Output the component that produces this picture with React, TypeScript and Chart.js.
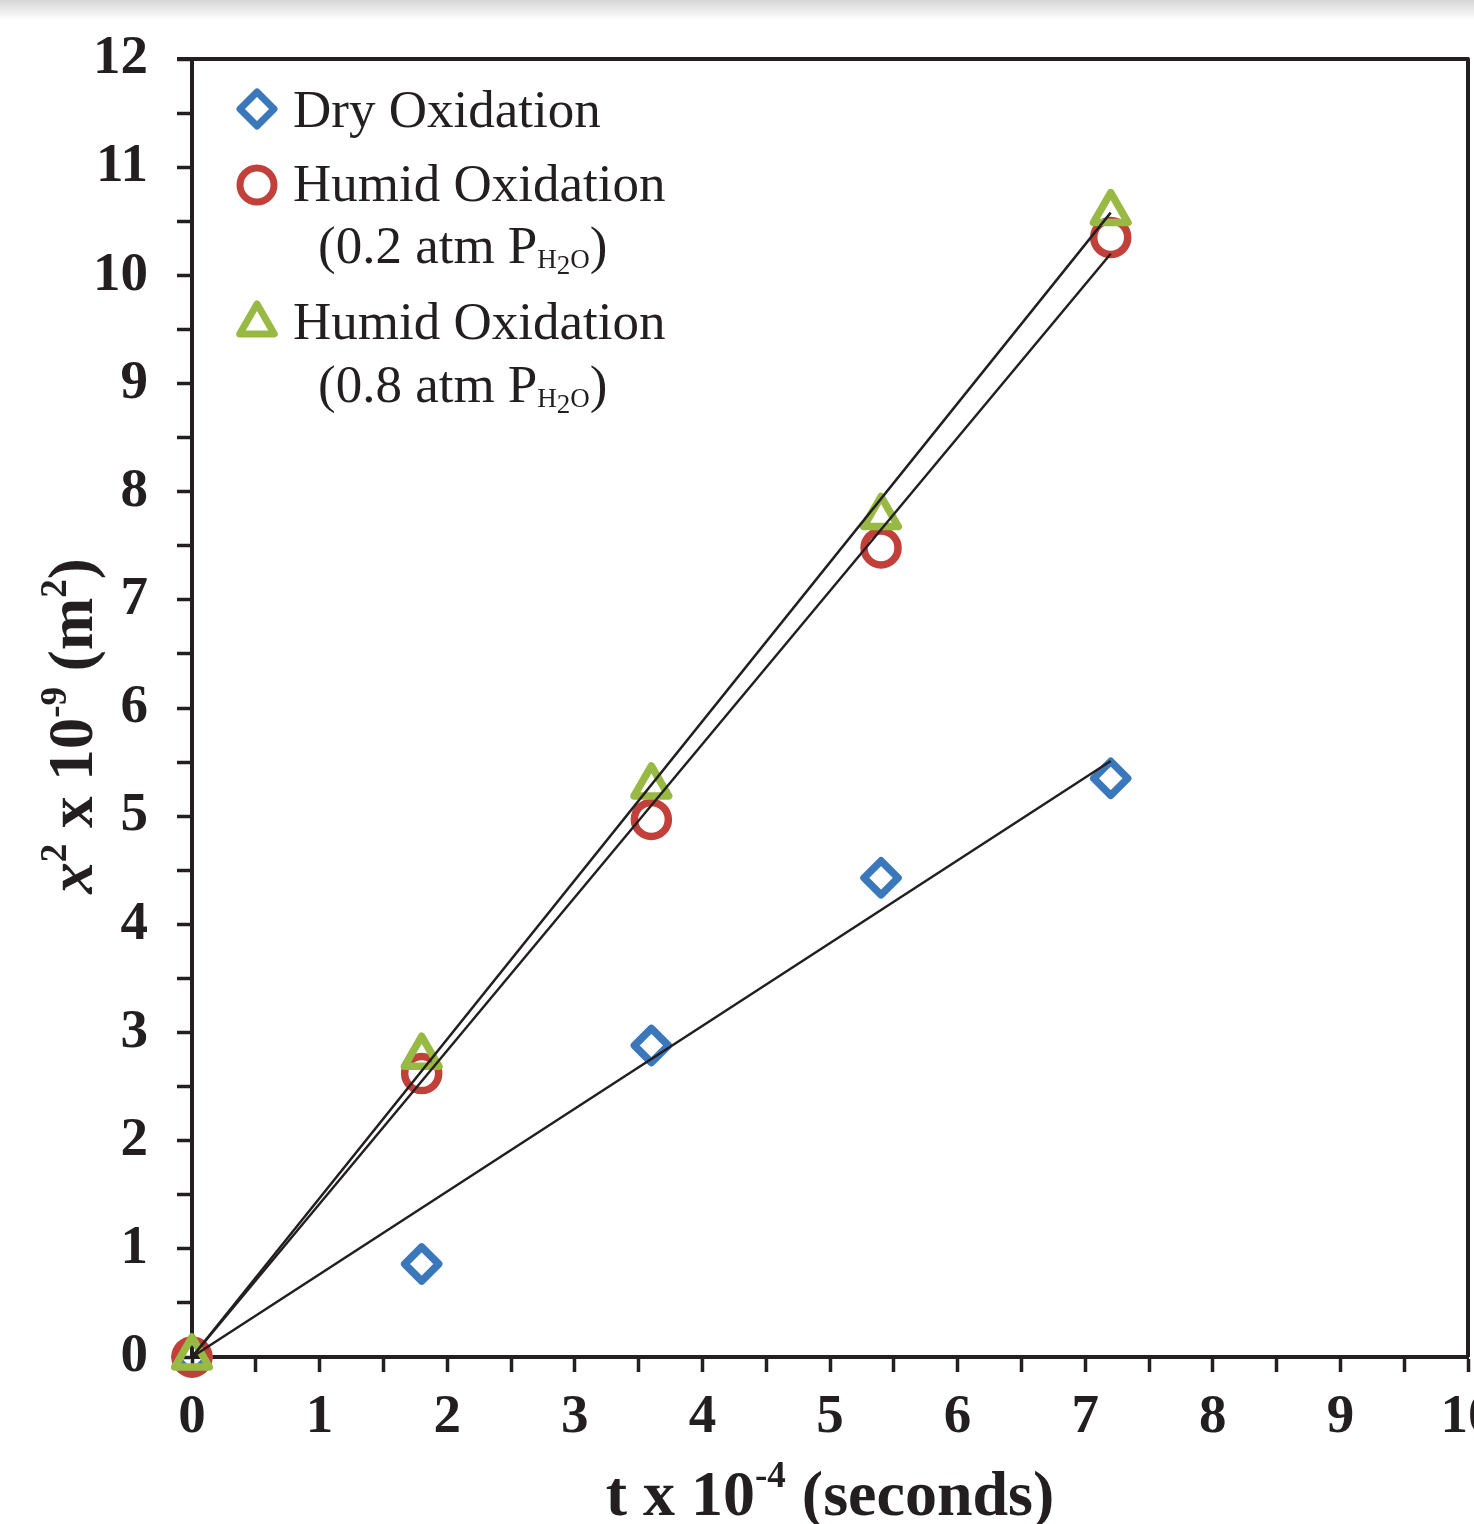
import React, { useEffect, useRef } from 'react';
import { Chart, registerables } from 'chart.js';

Chart.register(...registerables);

// ---------- data ----------
const TIME = [0, 1.8, 3.6, 5.4, 7.2];
const DRY = [0, 0.86, 2.88, 4.43, 5.35];
const HUMID_02 = [0, 2.62, 4.97, 7.48, 10.35];
const HUMID_08 = [0, 2.78, 5.28, 7.77, 10.58];

const FIT_TIME = [0, 7.2];
const FIT_DRY = [0, 5.51];
const FIT_HUMID_02 = [0, 10.2];
const FIT_HUMID_08 = [0, 10.58];

const X_TICK_LABELS = ['0', '1', '2', '3', '4', '5', '6', '7', '8', '9', '10'];
const Y_TICK_LABELS = ['0', '1', '2', '3', '4', '5', '6', '7', '8', '9', '10', '11', '12'];

const LEGEND_DRY = 'Dry Oxidation';
const LEGEND_HUMID = 'Humid Oxidation';
const LEGEND_P02 = '(0.2 atm P';
const LEGEND_P08 = '(0.8 atm P';

// ---------- styles ----------
const INK = '#231f20';
const BLUE = '#3b78bb';
const RED = '#c2403a';
const GREEN = '#98ba45';
const SERIF = "'Liberation Serif', 'Times New Roman', serif";

type Seg = { t: string; font: string; dy?: number };

function segWidth(ctx: CanvasRenderingContext2D, segs: Seg[]) {
  let w = 0;
  for (const s of segs) {
    ctx.font = s.font;
    w += ctx.measureText(s.t).width;
  }
  return w;
}

function drawRich(ctx: CanvasRenderingContext2D, segs: Seg[], x: number, y: number, align: 'left' | 'center') {
  ctx.textAlign = 'left';
  ctx.textBaseline = 'alphabetic';
  ctx.fillStyle = INK;
  let cx = align === 'center' ? x - segWidth(ctx, segs) / 2 : x;
  for (const s of segs) {
    ctx.font = s.font;
    ctx.fillText(s.t, cx, y + (s.dy || 0));
    cx += ctx.measureText(s.t).width;
  }
}

function marker(ctx: CanvasRenderingContext2D, style: string, x: number, y: number, r: number, color: string) {
  ctx.save();
  ctx.strokeStyle = color;
  ctx.lineWidth = 7;
  ctx.lineJoin = 'round';
  ctx.beginPath();
  if (style === 'rectRot') {
    ctx.moveTo(x - r, y);
    ctx.lineTo(x, y - r);
    ctx.lineTo(x + r, y);
    ctx.lineTo(x, y + r);
    ctx.closePath();
  } else if (style === 'circle') {
    ctx.arc(x, y, r, 0, Math.PI * 2);
  } else {
    ctx.moveTo(x, y - r);
    ctx.lineTo(x + 0.866 * r, y + 0.5 * r);
    ctx.lineTo(x - 0.866 * r, y + 0.5 * r);
    ctx.closePath();
  }
  ctx.stroke();
  ctx.restore();
}

const decorPlugin = {
  id: 'decor',
  beforeDraw(chart: any) {
    const ctx = chart.ctx as CanvasRenderingContext2D;
    ctx.save();
    const g = ctx.createLinearGradient(0, 0, 0, 20);
    g.addColorStop(0, 'rgba(215,215,215,1)');
    g.addColorStop(0.6, 'rgba(238,238,238,1)');
    g.addColorStop(1, 'rgba(255,255,255,1)');
    ctx.fillStyle = g;
    ctx.fillRect(0, 0, chart.width, 20);
    ctx.restore();
  },
  beforeDatasetDraw(chart: any) {
    chart.ctx.lineJoin = 'round';
  },
  afterDraw(chart: any) {
    const ctx = chart.ctx as CanvasRenderingContext2D;
    const a = chart.chartArea;
    ctx.save();
    // top & right frame
    ctx.strokeStyle = INK;
    ctx.lineWidth = 4;
    ctx.beginPath();
    ctx.moveTo(a.left - 15, a.top);
    ctx.lineTo(a.right, a.top);
    ctx.lineTo(a.right, a.bottom);
    ctx.stroke();

    // legend
    const lf = `53px ${SERIF}`;
    const sf = `27px ${SERIF}`;
    marker(ctx, 'rectRot', 257, 109, 17, BLUE);
    drawRich(ctx, [{ t: LEGEND_DRY, font: lf }], 293, 127, 'left');
    marker(ctx, 'circle', 257, 185, 17, RED);
    drawRich(ctx, [{ t: LEGEND_HUMID, font: lf }], 293, 201, 'left');
    drawRich(ctx, [
      { t: LEGEND_P02, font: lf },
      { t: 'H', font: sf, dy: 5 },
      { t: '2', font: sf, dy: 11 },
      { t: 'O', font: sf, dy: 5 },
      { t: ')', font: lf },
    ], 318, 263, 'left');
    marker(ctx, 'triangle', 257, 324, 20, GREEN);
    drawRich(ctx, [{ t: LEGEND_HUMID, font: lf }], 293, 339, 'left');
    drawRich(ctx, [
      { t: LEGEND_P08, font: lf },
      { t: 'H', font: sf, dy: 5 },
      { t: '2', font: sf, dy: 11 },
      { t: 'O', font: sf, dy: 5 },
      { t: ')', font: lf },
    ], 318, 402, 'left');

    // x title
    const tf = `bold 64px ${SERIF}`;
    const supf = `bold 37px ${SERIF}`;
    drawRich(ctx, [
      { t: 't x 10', font: tf },
      { t: '-4', font: supf, dy: -28 },
      { t: ' (seconds)', font: tf },
    ], (a.left + a.right) / 2, 1515, 'center');

    // y title
    const yf = `bold 63px ${SERIF}`;
    const yif = `italic bold 63px ${SERIF}`;
    const ysf = `bold 37px ${SERIF}`;
    ctx.translate(92, 726);
    ctx.rotate(-Math.PI / 2);
    drawRich(ctx, [
      { t: 'x', font: yif },
      { t: '2', font: ysf, dy: -26 },
      { t: ' x 10', font: yf },
      { t: '-9', font: ysf, dy: -26 },
      { t: ' (m', font: yf },
      { t: '2', font: ysf, dy: -26 },
      { t: ')', font: yf },
    ], 0, 0, 'center');
    ctx.restore();
  },
};

function pts(xs: number[], ys: number[]) {
  return xs.map((x, i) => ({ x, y: ys[i] }));
}

function fitSet(ys: number[]) {
  return {
    data: pts(FIT_TIME, ys),
    showLine: true,
    borderColor: INK,
    borderWidth: 2.5,
    pointRadius: 0,
    pointHoverRadius: 0,
    clip: false as any,
  };
}

function markSet(ys: number[], style: string, r: number, color: string) {
  return {
    data: pts(TIME, ys),
    showLine: false,
    pointStyle: style,
    pointRadius: r,
    pointHoverRadius: r,
    pointBorderWidth: 7.5,
    pointHoverBorderWidth: 7.5,
    pointBorderColor: color,
    pointBackgroundColor: 'rgba(0,0,0,0)',
    clip: false as any,
  };
}

export default function App() {
  const ref = useRef<HTMLCanvasElement | null>(null);

  useEffect(() => {
    document.body.style.margin = '0';
    const canvas = ref.current;
    if (!canvas) return;
    const tickFont = { family: SERIF, size: 55, weight: 'bold' as const, lineHeight: 1.2 };
    const chart = new Chart(canvas, {
      type: 'scatter',
      data: {
        datasets: [
          fitSet(FIT_HUMID_08),
          fitSet(FIT_HUMID_02),
          fitSet(FIT_DRY),
          markSet(HUMID_08, 'triangle', 20, GREEN),
          markSet(HUMID_02, 'circle', 17, RED),
          markSet(DRY, 'rectRot', 17, BLUE),
        ] as any,
      },
      options: {
        responsive: false,
        animation: false,
        devicePixelRatio: 1,
        layout: { autoPadding: false, padding: { top: 59, right: 6, left: 0, bottom: 0 } },
        plugins: {
          legend: { display: false },
          tooltip: { enabled: false },
          title: { display: false },
        },
        events: [],
        scales: {
          x: {
            type: 'linear',
            min: 0,
            max: 10,
            ticks: {
              stepSize: 0.5,
              autoSkip: false,
              maxRotation: 0,
              minRotation: 0,
              padding: 13,
              color: INK,
              font: tickFont,
              callback: (v: any) => (Number.isInteger(v) ? X_TICK_LABELS[v] : ''),
            },
            grid: {
              drawOnChartArea: false,
              drawTicks: true,
              tickLength: 15,
              tickWidth: 3.5,
              tickColor: INK,
            },
            border: { display: true, color: INK, width: 4 },
            afterFit: (s: any) => {
              s.height = 167;
              s.paddingLeft = 0;
              s.paddingRight = 0;
            },
          },
          y: {
            type: 'linear',
            min: 0,
            max: 12,
            ticks: {
              stepSize: 0.5,
              autoSkip: false,
              padding: 29,
              color: INK,
              font: tickFont,
              callback: (v: any) => (Number.isInteger(v) ? Y_TICK_LABELS[v] : ''),
            },
            grid: {
              drawOnChartArea: false,
              drawTicks: true,
              tickLength: 15,
              tickWidth: 3.5,
              tickColor: INK,
            },
            border: { display: true, color: INK, width: 4 },
            afterFit: (s: any) => {
              s.width = 192;
              s.paddingTop = 0;
              s.paddingBottom = 0;
            },
          },
        },
      } as any,
      plugins: [decorPlugin as any],
    });
    return () => chart.destroy();
  }, []);

  return <canvas ref={ref} width={1474} height={1524} style={{ display: 'block' }} />;
}
